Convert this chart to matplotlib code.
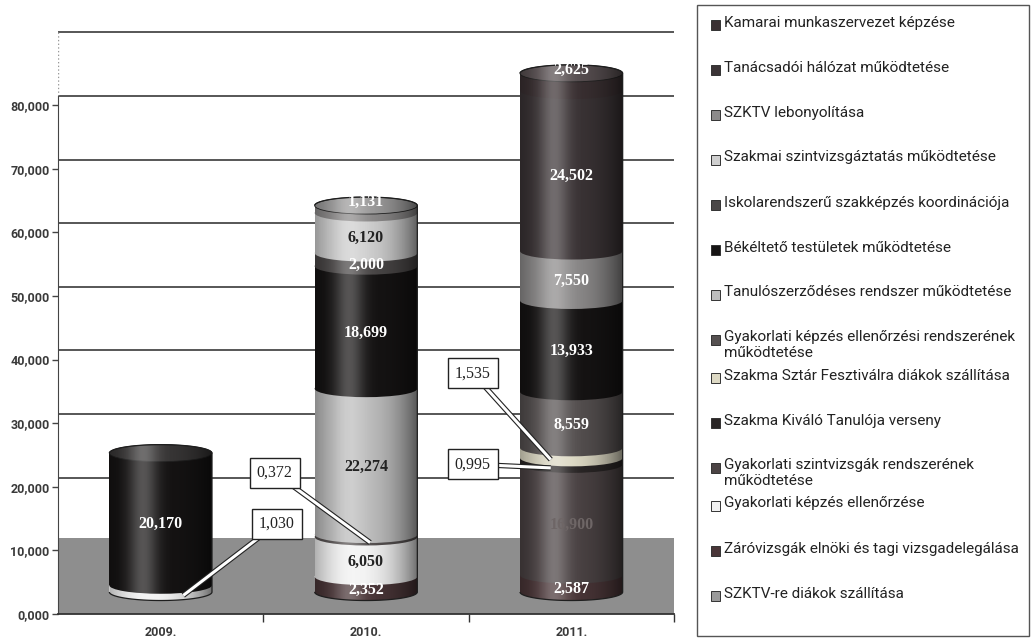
import numpy as np
import matplotlib
matplotlib.use("Agg")
import matplotlib.pyplot as plt
import matplotlib.patheffects as pe
from matplotlib.patches import Ellipse, Rectangle, PathPatch
from matplotlib.path import Path
from matplotlib.ticker import FuncFormatter

# ---- data (millió Ft), legend order = top of the stack first ----
YEARS = ["2009.", "2010.", "2011."]
SERIES = [
    "Kamarai munkaszervezet képzése",
    "Tanácsadói hálózat működtetése",
    "SZKTV lebonyolítása",
    "Szakmai szintvizsgáztatás működtetése",
    "Iskolarendszerű szakképzés koordinációja",
    "Békéltető testületek működtetése",
    "Tanulószerződéses rendszer működtetése",
    "Gyakorlati képzés ellenőrzési rendszerének\nműködtetése",
    "Szakma Sztár Fesztiválra diákok szállítása",
    "Szakma Kiváló Tanulója verseny",
    "Gyakorlati szintvizsgák rendszerének\nműködtetése",
    "Gyakorlati képzés ellenőrzése",
    "Záróvizsgák elnöki és tagi vizsgadelegálása",
    "SZKTV-re diákok szállítása",
]
kamarai = [0, 0, 2.625]
tanacsadoi = [0, 0, 24.502]
szktv_lebony = [0, 1.131, 7.550]
szintvizsgaztatas = [0, 6.120, 0]
iskolarendszeru = [0, 2.000, 0]
bekelteto = [20.170, 18.699, 13.933]
tanuloszerzodes = [0, 22.274, 0]
gyak_ell_rendszer = [0, 0.372, 8.559]
szakma_sztar = [0, 0, 1.535]
szakma_kivalo = [0, 0, 0.995]
gyak_szintvizsga = [0, 0, 16.900]
gyak_ellenorzes = [1.030, 6.050, 0]
zarovizsga = [0, 2.352, 2.587]
szktv_diakok = [0, 0, 0]
VALUES = [kamarai, tanacsadoi, szktv_lebony, szintvizsgaztatas, iskolarendszeru,
          bekelteto, tanuloszerzodes, gyak_ell_rendszer, szakma_sztar,
          szakma_kivalo, gyak_szintvizsga, gyak_ellenorzes, zarovizsga,
          szktv_diakok]
Y_TICKS = [0, 10, 20, 30, 40, 50, 60, 70, 80]

# ---- styling ----
COLORS = ["#3a3032", "#3b3436", "#8c8a8a", "#cfcfcf", "#4a4747", "#161414",
          "#bdbdbd", "#555050", "#ddd9c4", "#2a2626", "#4b4344", "#f2f2f2",
          "#4a3638", "#9a9a9a"]
LABEL_COLORS = ["white", "white", "white", "#222", "white", "white", "#222",
                "white", "#222", "#222", "#6e6666", "#222", "white", "#222"]
# small values shown in boxes: (series, year) -> box centre on the front plane
CALLOUTS = {(7, 1): (0.555, 18.2), (11, 0): (0.566, 10.4),
            (8, 2): (1.52, 33.4), (9, 2): (1.52, 19.5)}
LEADER_DX = [0.11, 0.02, -0.1]   # where the leader hits each cylinder
W = 0.5        # cylinder width (category units)
RY = 1.3       # half height of the elliptic caps
GRID_SHIFT = 1.45   # back wall lines sit a little higher than the ticks


def fmt(v):
    return f"{v:.3f}".replace(".", ",")


def lighten(c, k=0.15):
    rgb = np.array(matplotlib.colors.to_rgb(c))
    return tuple(rgb + (1 - rgb) * k)


fig = plt.figure(figsize=(10.32, 6.43), dpi=100)
ax = fig.add_axes([58 / 1032, 1 - 614 / 643, 616 / 1032, 584 / 643])
ax.set_xlim(-0.5, 2.5)
ax.set_ylim(0, 584 / 6.36)

# back wall grid and floor
ax.axhspan(0, 12.0, color="#8e8e8e", zorder=0.5, lw=0)
for v in Y_TICKS[1:] + [90]:
    ax.axhline(v + GRID_SHIFT, color="#3a3a3a", lw=1.2, zorder=0.3)
ax.vlines(-0.5, 80 + GRID_SHIFT, 584 / 6.36, colors="#999", linestyles=":", lw=1)

ax.set_yticks(Y_TICKS)
ax.yaxis.set_major_formatter(FuncFormatter(lambda v, p: fmt(v)))
ax.set_xticks(range(3))
ax.set_xticklabels(YEARS)
ax.set_xticks([0.5, 1.5, 2.5], minor=True)
ax.tick_params(axis="x", which="major", length=0, pad=9)
ax.tick_params(axis="x", which="minor", length=6, width=1, color="#333")
ax.tick_params(axis="y", length=4, width=1, color="#444", pad=2)
for lab in ax.get_yticklabels() + ax.get_xticklabels():
    lab.set_fontfamily("Roboto")
    lab.set_fontweight("bold")
    lab.set_fontsize(9)
    lab.set_color("#3a3a3a")
for s in ("top", "right"):
    ax.spines[s].set_visible(False)
ax.spines["left"].set_bounds(0, 80 + GRID_SHIFT)
ax.spines["left"].set_color("#444")
ax.spines["bottom"].set_color("#333")
ax.spines["bottom"].set_linewidth(1.3)

# front plane for the cylinders (slightly larger scale, standing mid-floor)
axc = fig.add_axes(ax.get_position(), sharex=ax)
axc.set_ylim(-22 / 6.55, 562 / 6.55)
axc.patch.set_visible(False)
axc.axis("off")

shade_x = np.linspace(0, 1, 200)
dark_img = np.zeros((1, 200, 4))
dark_img[0, :, 3] = 0.55 * (np.abs(shade_x - 0.42) / 0.58) ** 2.2
light_img = np.ones((1, 200, 4))
light_img[0, :, 3] = 0.28 * np.exp(-((shade_x - 0.33) / 0.14) ** 2)

for j in range(len(YEARS)):
    xc = j
    b = 0.0
    segs = []
    for i in reversed(range(len(SERIES))):
        v = VALUES[i][j]
        if v <= 0:
            continue
        segs.append((i, b, v))
        b += v
    top = b
    z = 5
    for i, b0, v in segs:
        axc.add_patch(Ellipse((xc, b0), W, 2 * RY, facecolor=COLORS[i],
                              edgecolor="none", zorder=z))
        axc.add_patch(Rectangle((xc - W / 2, b0), W, v, facecolor=COLORS[i],
                                edgecolor="none", zorder=z))
        z += 0.01
    axc.add_patch(Ellipse((xc, top), W, 2 * RY, facecolor=lighten(COLORS[segs[-1][0]]),
                          edgecolor="#222", lw=0.6, zorder=z))

    t1 = np.linspace(np.pi, 2 * np.pi, 60)
    t2 = np.linspace(0, np.pi, 60)
    xs = np.r_[xc + W / 2 * np.cos(t1), xc + W / 2 * np.cos(t2)]
    ys = np.r_[RY * np.sin(t1), top + RY * np.sin(t2)]
    outline = PathPatch(Path(np.c_[xs, ys], closed=False), facecolor="none",
                        edgecolor="#1e1e1e", lw=0.9, zorder=7)
    axc.add_patch(outline)
    ext = [xc - W / 2, xc + W / 2, -RY, top + RY]
    for img in (dark_img, light_img):
        im = axc.imshow(img, extent=ext, aspect="auto", zorder=6,
                        interpolation="bilinear")
        im.set_clip_path(outline)

    for i, b0, v in segs:
        if (i, j) in CALLOUTS:
            bx, by = CALLOUTS[(i, j)]
            ex, ey = xc + LEADER_DX[j], b0 + v / 2 - RY * 0.8
            axc.plot([bx, ex], [by, ey], color="white", lw=2.2, zorder=8,
                     solid_capstyle="butt",
                     path_effects=[pe.Stroke(linewidth=3.8, foreground="#222"),
                                   pe.Normal()])
            axc.text(bx, by, fmt(v), ha="center", va="center", zorder=9,
                     family="Liberation Serif", fontsize=11.5, color="#222",
                     bbox=dict(boxstyle="square,pad=0.45", fc="white",
                               ec="#222", lw=1))
            continue
        ly = b0 + v / 2 - RY * 0.6
        if i == segs[-1][0] and v < 4:
            ly = top + RY * 0.4
        axc.text(xc, ly, fmt(v), ha="center", va="center", zorder=9,
                 family="Liberation Serif", fontweight="bold", fontsize=11.5,
                 color=LABEL_COLORS[i])

axc.set_xlim(-0.5, 2.5)
axc.set_ylim(-22 / 6.55, 562 / 6.55)

# legend box, drawn by hand to keep the Excel spacing
fig.patches.append(Rectangle((697 / 1032, 1 - 636 / 643), 332 / 1032, 631 / 643,
                             transform=fig.transFigure, fill=False,
                             ec="#555", lw=1))
y = 25
for i, name in enumerate(SERIES):
    fig.patches.append(Rectangle((711 / 1032, 1 - (y + 5) / 643), 9 / 1032, 10 / 643,
                                 transform=fig.transFigure, fc=COLORS[i],
                                 ec="#333", lw=0.7))
    fig.text(724 / 1032, 1 - (y - 9.5) / 643, name, ha="left", va="top",
             family="Roboto", fontsize=11, color="#222", linespacing=1.15)
    y += 38 if "\n" in name else 45

fig.savefig("out.png", dpi=100)
